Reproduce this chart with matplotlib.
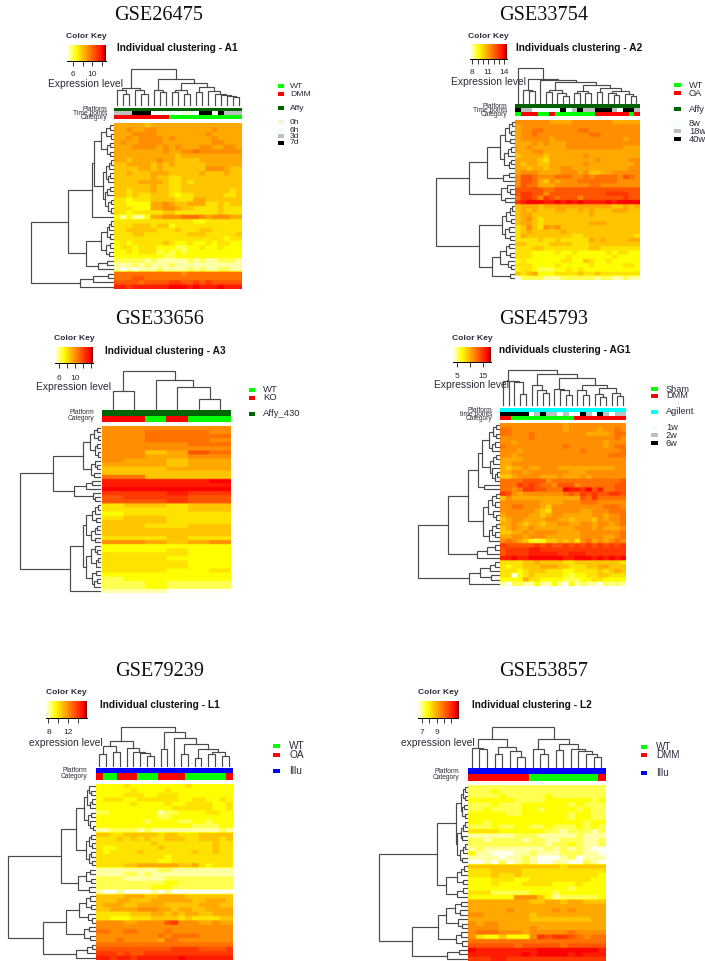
import numpy as np
import matplotlib
matplotlib.use("Agg")
import matplotlib.pyplot as plt
from matplotlib.colors import LinearSegmentedColormap, to_rgb
from matplotlib.patches import Rectangle

W, H = 705, 961
SANS = ["Liberation Sans", "DejaVu Sans"]
INK = "#2b2b3a"

# ---------- data: heat levels per row (hex digit per column, 0=white .. c=red) ----------
A1_HEAT = """666665666666666666666
667667766666666676666
666777766666666766666
667677776766666676666
676677776666666677666
666777767676667766776
666666667667787777777
666666666656666666666
665666676655556666666
556666565655555666666
555566565555555777655
556555666555556555655
555555655445555555555
555566665445455555555
555555655445555555555
554555655445555555545
554544555434455555445
443444555544466555555
443333667655666445455
444333667765544445444
443444445544444445444
313113667778887677766
444444444444433444444
444555455344444444444
445555544454445544444
444554444444555444445
444444444444444444344
343444445433433434433
344344433322334334333
334344423232333333333
333333332233333333333
222221211111212112221
111212111211111111111
101011121111212112211
888888888887888888888
888998888888888888888
999989999aa99a9a99999
bbabbbbbbcccbcbbbcbbb""".split()

A2_HEAT = """7777776666777777766666
6777777777777777777777
6778877777788777777777
6778777777777887777777
6777776777777777777677
6667676667777777777777
6676666667777777777666
6667766666666666666666
5666656666667666666666
6666546666666676666677
6566556666667666666667
6656656677666666666677
6777666677767556677777
7998777888778788887987
7998657677788888887777
7988666777777887777777
9999988999999999999999
9aa9979999999999aaaa99
8aa97a9899979999999a99
abcccbbcbcbcbbbbcbcccc
5666566666666666655656
5656555665565655566655
5665555555555655555555
5675455555555555555555
5665455555555666555555
4575476755555555555555
4565555565555555555555
4655555555445555555554
4444544544444656555566
5544445555444555555555
4445544444444554444444
4443333433433333434433
4443333334333333343333
3433333344335433433333
4443333433333433333443
3443222334343333333333
5456333444454454444444
0222211122222212211211""".split()

A3_HEAT = """777777
778887
778888
778887
777788
777777
775698
776677
766566
666566
555666
555555
885555
bbbbbc
bbbbbb
cccccc
aaabaa
9aaa99
999a99
455455
444455
344444
455444
555444
554455
555555
555555
444544
776567
333333
333433
444433
444333
444433
444433
444334
333333
233333
223222
223222
111000""".split()

AG1_HEAT = """7777777777767777777777
8877777777767777767787
8877787777777776666788
7777787777777777777787
7767777777777777776777
8777777777787777776788
7776777777777787777778
7767777777777777777888
6666777777777777777777
6677777777777777777777
6566766777666666666677
6677677777776667777777
5567777666766676777777
8888999978888888888889
888a9a9887999788888899
8878aa99888cbbac9b8899
a9767777777898a9a99aa9
5766666666666698a88888
7777777666677788877777
7788777657777777778887
7777776547777766777888
6777766567766666776778
5677666677665666576778
6676566566776677677678
5676676666666777676667
5566767777666677777778
6677677766666677776678
7876532355656478676787
a99999a9a99a9a9a9a9a9a
9aaaabbaaaaaaaaaaaaaaa
9aaaabbbbbaabbbaaaaaaa
bbcbbccccccbbcccbcbcbc
4444556555544555555554
4344555666554445566555
4443455544433444454565
4403454444432334455444
3333644333322233443333
1022113113103121102121""".split()

L1_HEAT = """33334333333334333333
33333433334333333333
33334443344433333333
34443344444433443343
33333433334334444334
33333333333444444334
22333333312233334433
33333333322333333333
33333332333322332333
33333333333333222233
11222212111111111121
55445555545544455555
44454545445554455545
44444444544444444544
43344444454444444544
43444454444444544544
44444444443444444444
44444444433444444444
44445566666655643444
11111111122111111111
11112212111111111111
22221111112222222222
22222222223322222222
22222222333222222222
10010000101000000000
55556665566665555555
55566555666666556665
56665566665555566655
55666677766566556666
44444555665656655666
44333444555545444455
77776677779a77766766
77777777777777777777
88778877778777777777
77777777787888877777
77787777768877777777
88888888888888888888
99999999999aaaa9999a
aaa9a99aaaaaaaaaaaaa
bbabbabbbbbbcbbbbbbb""".split()

L2_HEAT = """222222222222222222
222322222222222222
222232222232222222
333333222233333323
222322233333323222
223222233233332322
333332233333323322
333333333333323322
332333333333333233
222322332232223232
444433333322122212
111111222111112111
221222212211222112
222222222212232112
121111111121212100
311000112111222110
111101121000120111
001020121001100210
555555555555455555
444555544444444444
444544544444444443
333444334444444433
333433344443334333
333333333333323333
444222223332333333
333333777531222223
666666665566566555
666666666666666666
666667666667676666
776666665666666666
666666665555555566
767766666666666666
777766667666666666
788877767777787777
743353337a9aa98788
888888888888888888
999999899999899999
cbbbbbbbbccccccccb
bbbbbbbcbccccbcbbb
aaabbaaaaaaaaaaaaa""".split()

# ---------- data: dendrograms as nested (height, left, right); 0 is a leaf ----------
A1_COL = (36, (17, (15, 0, (11, 0, 0)), (15, 0, (11, 0, 0))),
          (26, (15, 0, (13, 0, 0)),
           (22, (15, (13, 0, 0), (11, 0, 0)),
            (18, (13, 0, 0), (14, 0, (11, 0, (10, 0, (9, 0, (8, 0, 0)))))))))
A1_ROW = (82,
          (45,
           (21, (19,
                 (12, (7, (3, 0, 0), (2, 0, 0)), (6, (3, 0, 0), (3, 0, 0))),
                 (10, (7, (4, (2, 0, 0), 0), (5, (3, 0, 0), 0)),
                  (8, (6, (3, 0, 0), 0), (5, (2, 0, 0), (2, 0, 0))))), 0),
           (27, (12, (6, (4, (2, 0, 0), 0), (3, 0, 0)), (7, (3, 0, 0), (4, 0, 0))),
            (15, (6, 0, 0), 0))),
          (33, (20, (5, 0, 0), 0), 0))

A2_COL = (36, 0, (25, (14, 0, (13, 0, 0)),
                  (24, 0, (22, (14, (12, 0, 0), (11, 0, (8, 0, 0))),
                           (19, (13, (11, 0, 0), (11, 0, 0)),
                            (16, (12, 0, 0), (13, (11, 0, (9, 0, 0)), (10, 0, (8, 0, 0)))))))))
A2_ROW = (78,
          (45,
           (27, (14, (9, (5, (2, 0, 0), (3, 0, 0)), (4, 0, 0)),
                 (10, (6, (3, 0, 0), 0), (5, (3, 0, 0), 0))),
            (11, (5, 0, 0), 0)),
           (13, (7, 0, (4, 0, 0)), (9, 0, 0))),
          (35, (12, (8, (4, (2, 0, 0), 0), (3, 0, 0)), (9, (5, 0, 0), (4, 0, 0))),
           (22, (14, (8, (5, 0, 0), (4, 0, 0)), (6, 0, (3, 0, 0))), (4, 0, 0))))

A3_COL = (38, (18, 0, 0), (29, 0, (22, 0, (10, 0, 0))))
A3_ROW = (80,
          (47,
           (17, (10, (6, (3, 0, 0), (2, 0, 0)), (5, (3, 0, 0), (2, 0, 0))),
            (9, (5, 0, (3, 0, 0)), (6, 0, 0))),
           (26, (14, (8, 0, 0), 0), (7, 0, (5, 0, 0)))),
          (30, (17, (14, (8, (5, (2, 0, 0), 0), (4, 0, 0)), (9, (5, (3, 0, 0), 0), (5, 0, 0))),
                (14, (9, (5, 0, (3, 0, 0)), (4, (2, 0, 0), 0)), (8, (4, 0, 0), (6, (3, 0, 0), 0)))), 0))

AG1_COL = (35, (24, 0, (24, 0, (23, 0, (11, 0, 0)))),
           (31, (20, 0, (15, 0, (12, 0, 0))),
            (27, (16, 0, (15, 0, (10, 0, 0))),
             (20, (15, 0, (10, 0, 0)), (17, (11, 0, (8, 0, 0)), (12, 0, (9, 0, 0)))))))
AG1_ROW = (81,
           (51,
            (31, (21, (17, (10, (6, (3, 0, 0), (3, 0, 0)), (7, (4, 0, 0), 0)),
                       (9, (6, (3, 0, 0), 0), (7, 0, (4, (2, 0, 0), 0)))), (15, 0, 0)),
             (16, (11, (7, (3, 0, 0), (4, 0, 0)), (6, 0, (3, 0, 0))),
              (10, (7, (3, 0, 0), (4, 0, 0)), 0))),
            (22, (12, (4, 0, 0), 0), 0)),
           (30, (19, (9, (4, 0, 0), 0), (8, 0, 0)), 0))

L1_COL = (39, (25, (20, (12, 0, 0), (14, 0, 0)), (18, 0, (14, 0, (13, 0, (10, 0, 0))))),
          (34, (17, 0, 0), (28, 0, (22, (12, 0, 0),
                                    (17, (8, 0, 0), (14, (12, 0, 0), (10, 0, 0)))))))
L1_ROW = (87,
          (34,
           (19, (11, (8, (6, 0, (4, 0, 0)), (5, (3, 0, 0), 0)), (7, (4, 0, 0), (5, 0, (2, 0, 0)))),
            (9, (6, (4, 0, 0), (3, 0, 0)), (6, (4, 0, 0), (3, 0, 0)))),
           (17, (9, (5, 0, 0), (4, 0, 0)), (6, 0, 0))),
          (52,
           (29, (16, (9, (5, 0, 0), (4, 0, 0)), (7, 0, (3, 0, 0))), (11, (6, 0, 0), (5, 0, 0))),
           (19, (8, (3, 0, 0), 0), 0)))

L2_COL = (40, (28, (19, 0, (18, 0, 0)), (20, (13, 0, 0), (16, 0, (10, 0, 0)))),
          (28, (18, 0, (13, 0, 0)), (23, (17, 0, 0), (18, 0, (16, 0, (13, 0, (10, 0, 0)))))))
L2_ROW = (88,
          (30,
           (11, (6, (4, (2, 0, 0), (2, 0, 0)), (5, (3, 0, 0), (2, 0, 0))),
            (10, (6, (4, (2, 0, 0), 0), (5, 0, 0)), (7, (4, (2, 0, 0), 0), (5, 0, 0)))),
           (21, (10, (6, (3, 0, 0), 0), (4, 0, 0)), (10, (4, 0, 0), 0))),
          (55,
           (29, (21, (12, (6, 0, 0), (7, 0, 0)), (9, 0, (5, 0, 0))), (11, (6, 0, 0), (5, 0, 0))),
           (20, (8, 0, 0), 0)))

# ---------- data: column annotations, one letter per column ----------
COLOURS = {"G": "#00FF00", "R": "#FF0000", "F": "#006400", "C": "#00FFFF", "B": "#0000FF",
           "y": "#F5F5DC", "w": "#F0FFFF", "g": "#BEBEBE", "k": "#000000"}
A1_TIME = "gggkkkwwwwwyywkkykggg"
A1_CAT = "RRRRRRRRRGGGGGGGGGGGG"
A2_TIME = "kggwwwwwkwgkggkkkgwkkg"
A2_CAT = "GRRRGGRGGGGGGGRRRRRRGR"
A3_CAT = "RRGRGG"
AG1_TIME = "kkkkkwgkggwgwwkgwkgwgg"
AG1_CAT = "RRGGGGGGGGGGGRRRRRRRRR"
L1_CAT = "RGGRRRGGGRRRRGGGGGGR"
L2_CAT = "RRRRRRRRGGGGGGGGGR"

# ---------- data: legends (label, colour key) ----------
A1_LEGEND = [("WT", "G"), ("DMM", "R"), ("Affy", "F"), ("0h", "y"), ("6h", "w"), ("3d", "g"), ("7d", "k")]
A2_LEGEND = [("WT", "G"), ("OA", "R"), ("Affy", "F"), ("8w", "w"), ("18w", "g"), ("40w", "k")]
A3_LEGEND = [("WT", "G"), ("KO", "R"), ("Affy_430", "F")]
AG1_LEGEND = [("Sham", "G"), ("DMM", "R"), ("Agilent", "C"), ("1w", "w"), ("2w", "g"), ("6w", "k")]
L1_LEGEND = [("WT", "G"), ("OA", "R"), ("Illu", "B")]
L2_LEGEND = [("WT", "G"), ("DMM", "R"), ("Illu", "B")]

# ---------- layout ----------
PANELS = [
    dict(title="GSE26475", sub="Individual clustering - A1", heat=A1_HEAT, col=A1_COL, row=A1_ROW,
         bars=[("Platform", "F"), ("Time points", A1_TIME), ("Category", A1_CAT)], legend=A1_LEGEND,
         tx=159, ty=16, sx=117, sy=48, hx=(114, 242), hy=(123.3, 289), by=(108, 119.3), cb=105, rr=113,
         kx=(67, 106), ky=(45, 61), krange=(4.8, 12.8), kticks=[6, 8, 10, 12], klab=[6, 10], kcy=37, kly=75,
         ename="Expression level", ecx=86, ey=84, lab_r=107,
         mx=(278, 283.5), ltx=290, ly=[86, 94, 108, 122, 130, 136, 143], lfs=6.1),
    dict(title="GSE33754", sub="Individuals clustering - A2", heat=A2_HEAT, col=A2_COL, row=A2_ROW,
         bars=[("Platform", "F"), ("Time points", A2_TIME), ("Category", A2_CAT)], legend=A2_LEGEND,
         tx=544, ty=16, sx=516, sy=48, hx=(515, 639), hy=(120, 280), by=(104.3, 116), cb=104, rr=514,
         kx=(470, 507), ky=(44, 59), krange=(7.6, 14.5), kticks=[8, 9, 10, 11, 12, 13, 14], klab=[8, 11, 14], kcy=36, kly=73,
         ename="Expression level", ecx=488.6, ey=82, lab_r=507.5,
         mx=(674, 681), ltx=689, ly=[85, 93, 109, 123, 131, 139], lfs=6.7),
    dict(title="GSE33656", sub="Individual clustering - A3", heat=A3_HEAT, col=A3_COL, row=A3_ROW,
         bars=[("Platform", "F"), ("Category", A3_CAT)], legend=A3_LEGEND,
         tx=160, ty=320, sx=105, sy=351, hx=(102, 231), hy=(426, 593), by=(410, 422), cb=409, rr=100,
         kx=(55, 93), ky=(347, 363), krange=(5.1, 14.6), kticks=[6, 8, 10, 12, 14], klab=[6, 10], kcy=339, kly=378,
         ename="Expression level", ecx=74, ey=387, lab_r=94,
         mx=(249, 255), ltx=263, ly=[390, 398, 414], lfs=6.8),
    dict(title="GSE45793", sub="ndividuals clustering - AG1", heat=AG1_HEAT, col=AG1_COL, row=AG1_ROW,
         bars=[("Platform", "C"), ("time points", AG1_TIME), ("Category", AG1_CAT)], legend=AG1_LEGEND,
         tx=544, ty=320, sx=499, sy=350, hx=(500, 626), hy=(423, 586), by=(408.3, 420), cb=405, rr=499,
         kx=(453, 491), ky=(347, 362), krange=(3.5, 17.9), kticks=[5, 10, 15], klab=[5, 15], kcy=339, kly=376,
         ename="Expression level", ecx=472, ey=385, lab_r=492,
         mx=(651, 658), ltx=666, ly=[389, 396, 412, 428, 435, 443], lfs=6.7),
    dict(title="GSE79239", sub="Individual clustering - L1", heat=L1_HEAT, col=L1_COL, row=L1_ROW,
         bars=[("Platform", "B"), ("Category", L1_CAT)], legend=L1_LEGEND,
         tx=160, ty=672, sx=100, sy=705, hx=(96, 232), hy=(784, 960), by=(767.7, 780), cb=766, rr=95,
         kx=(46, 87), ky=(701, 718), krange=(7.5, 15.9), kticks=[8, 10, 12, 14], klab=[8, 12], kcy=693, kly=733,
         ename="expression level", ecx=66, ey=743, lab_r=87,
         mx=(273, 280), ltx=289, ly=[746, 755, 771], lfs=7.3),
    dict(title="GSE53857", sub="Individual clustering - L2", heat=L2_HEAT, col=L2_COL, row=L2_ROW,
         bars=[("Platform", "B"), ("Category", L2_CAT)], legend=L2_LEGEND,
         tx=544, ty=672, sx=472, sy=705, hx=(468, 605), hy=(785, 961), by=(768, 781), cb=767, rr=467,
         kx=(417.7, 458.3), ky=(701, 718), krange=(6.4, 12.0), kticks=[7, 8, 9, 10, 11], klab=[7, 9], kcy=693, kly=733,
         ename="expression level", ecx=438, ey=743, lab_r=459,
         mx=(641, 647), ltx=656, ly=[747, 755, 773], lfs=7.1),
]

CMAP = LinearSegmentedColormap.from_list(
    "key", [(0, "#FFFFF2"), (3 / 13, "#FFFF00"), (12 / 13, "#FF0000"), (1, "#7a0000")])

fig = plt.figure(figsize=(W / 100, H / 100), dpi=100, facecolor="white")


def px_axes(x0, x1, y0, y1, **kw):
    return fig.add_axes([x0 / W, 1 - y1 / H, (x1 - x0) / W, (y1 - y0) / H], **kw)


def matrix(rows):
    n = len(rows[0])
    return np.array([[int(c, 16) for c in (r + r[-1] * n)[:n]] for r in rows], float)


def draw_tree(node, ax, pos, vertical):
    """Draws one merge and returns (leaf position, height) of the node."""
    if node == 0:
        p = pos[0]
        pos[0] += 1
        return p + 0.5, 0
    h, a, b = node
    pa, ha = draw_tree(a, ax, pos, vertical)
    pb, hb = draw_tree(b, ax, pos, vertical)
    xs, ys = [pa, pa, pb, pb], [ha, h, h, hb]
    if vertical:
        ax.plot(xs, ys, color="#4a4a4a", lw=0.85, solid_joinstyle="miter", clip_on=False)
    else:
        ax.plot(ys, xs, color="#4a4a4a", lw=0.85, solid_joinstyle="miter", clip_on=False)
    return (pa + pb) / 2, h


over = fig.add_axes([0, 0, 1, 1], zorder=5)
over.set_xlim(0, W)
over.set_ylim(H, 0)
over.axis("off")
over.patch.set_alpha(0)

for p in PANELS:
    data = matrix(p["heat"])
    nrow, ncol = data.shape
    hx, hy = p["hx"], p["hy"]

    # each cell is split into blocks about 2 px wide, so the filter softens only the cell edges
    rep_y = max(1, round((hy[1] - hy[0]) / nrow / 2))
    rep_x = max(1, round((hx[1] - hx[0]) / ncol / 2))
    ax = px_axes(hx[0], hx[1], hy[0], hy[1])
    ax.imshow(np.repeat(np.repeat(data, rep_y, axis=0), rep_x, axis=1), cmap=CMAP, vmin=0, vmax=13,
              aspect="auto", interpolation="hanning", interpolation_stage="data",
              extent=(0, ncol, nrow, 0))
    ax.axis("off")

    # annotation bars
    rows = []
    for _, spec in p["bars"]:
        rows.append([to_rgb(COLOURS[c]) for c in (spec if len(spec) > 1 else spec * ncol)])
    bax = px_axes(hx[0], hx[1], p["by"][0], p["by"][1])
    bax.imshow(np.array(rows), aspect="auto", interpolation="nearest", extent=(0, ncol, len(rows), 0))
    bax.axis("off")
    step = (p["by"][1] - p["by"][0]) / len(rows)
    for i, (lab, _) in enumerate(p["bars"]):
        over.text(p["lab_r"], p["by"][0] + step * (i + 0.5), lab, ha="right", va="center",
                  fontsize=4.8, family=SANS, color=INK)

    # column dendrogram
    root = p["col"][0]
    cax = px_axes(hx[0], hx[1], p["cb"] - root, p["cb"])
    cax.set_xlim(0, ncol)
    cax.set_ylim(0, root)
    cax.axis("off")
    draw_tree(p["col"], cax, [0], True)

    # row dendrogram
    root = p["row"][0]
    rax = px_axes(p["rr"] - root, p["rr"], hy[0], hy[1])
    rax.set_xlim(root, 0)
    rax.set_ylim(nrow, 0)
    rax.axis("off")
    draw_tree(p["row"], rax, [0], False)

    # colour key
    kax = px_axes(p["kx"][0], p["kx"][1], p["ky"][0], p["ky"][1])
    kax.imshow(np.linspace(0, 1, 256)[None, :], cmap=CMAP, aspect="auto",
               extent=(p["krange"][0], p["krange"][1], 0, 1))
    kax.set_yticks([])
    kax.set_xticks(p["kticks"])
    kax.set_xticklabels([])
    kax.tick_params(axis="x", length=3.6, width=0.7, color="#333333")
    for s in ("top", "left", "right"):
        kax.spines[s].set_visible(False)
    kax.spines["bottom"].set_linewidth(0.7)
    span = p["krange"][1] - p["krange"][0]
    for v in p["klab"]:
        over.text(p["kx"][0] + (v - p["krange"][0]) / span * (p["kx"][1] - p["kx"][0]), p["kly"], str(v),
                  ha="center", va="center", fontsize=6, family=SANS, color=INK)
    over.text((p["kx"][0] + p["kx"][1]) / 2, p["kcy"], "Color Key", ha="center", va="center",
              fontsize=6.1, fontweight="bold", family=SANS, color=INK)
    over.text(p["ecx"], p["ey"], p["ename"], ha="center", va="center", fontsize=7.4, family=SANS, color=INK)

    # titles
    over.text(p["tx"], p["ty"], p["title"], ha="center", va="center", fontsize=14.6,
              family=["Liberation Serif", "DejaVu Serif"], color="#111111")
    over.text(p["sx"], p["sy"], p["sub"], ha="left", va="center", fontsize=7.3, fontweight="bold",
              family=SANS, color="#111111")

    # legend
    for (lab, key), y in zip(p["legend"], p["ly"]):
        over.add_patch(Rectangle((p["mx"][0], y - 2.3), p["mx"][1] - p["mx"][0], 4.6,
                                 facecolor=COLOURS[key], edgecolor="none"))
        over.text(p["ltx"], y, lab, ha="left", va="center", fontsize=p["lfs"], family=SANS, color=INK)

fig.savefig("out.png", dpi=100, facecolor="white")
